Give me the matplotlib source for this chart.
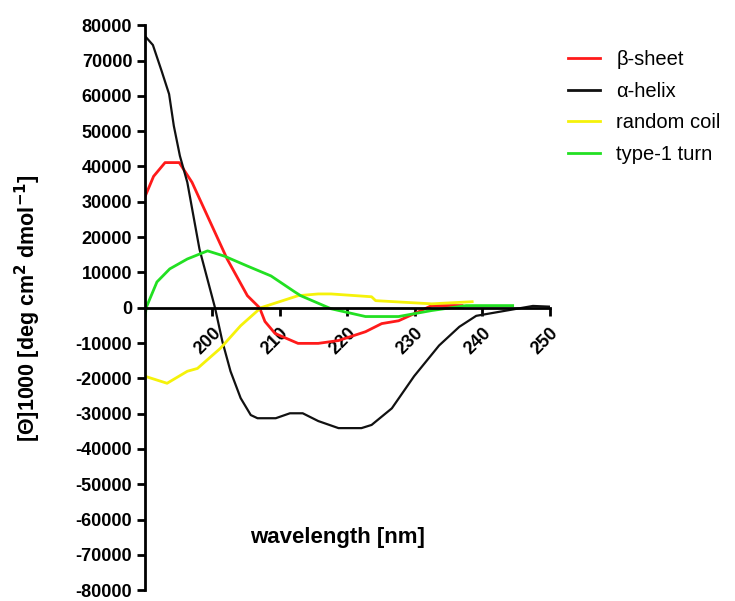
import matplotlib
matplotlib.use("Agg")
import matplotlib.pyplot as plt
import numpy as np

plt.rcParams['font.family'] = ['Liberation Sans', 'DejaVu Sans']

# alpha-helix (black)
helix_x = [190.0, 191.2, 192.5, 193.6, 194.3, 195.2, 196.3, 198.1, 200.4, 201.5, 202.7,
           204.2, 205.7, 206.7, 209.4, 211.5, 213.4, 215.7, 218.7, 222.1, 223.6, 226.6,
           229.9, 233.6, 236.6, 239.1, 243.6, 247.5, 250.0]
helix_y = [77000, 74400, 67000, 60500, 51500, 43000, 35500, 16600, 0, -9600, -18000,
           -25600, -30400, -31300, -31300, -29900, -29900, -32100, -34100, -34100, -33200, -28500,
           -19400, -10700, -5400, -2300, -800, 500, 300]

# beta-sheet (red)
sheet_x = [190.0, 191.3, 193.0, 195.1, 197.0, 199.3, 202.2, 205.2, 207.0, 207.8, 209.3,
           212.7, 215.7, 218.7, 222.7, 225.1, 227.6, 230.6, 232.5, 237.0]
sheet_y = [31300, 37200, 41100, 41100, 35500, 25900, 13800, 3400, 0, -3900, -7300,
           -10100, -10100, -9300, -6800, -4500, -3700, -1100, 600, 600]

# random coil (yellow)
coil_x = [190.0, 193.3, 196.3, 197.8, 201.2, 204.2, 207.2, 212.7, 215.7, 217.6, 223.6,
          224.2, 232.5, 238.5]
coil_y = [-19400, -21400, -18000, -17200, -11500, -5100, 0, 3400, 3900, 3900, 3100,
          2000, 1100, 1700]

# type-1 turn (green)
turn_x = [190.0, 190.2, 191.8, 193.7, 196.3, 199.3, 201.8, 205.2, 208.7, 212.2, 213.1,
          217.6, 222.7, 227.6, 232.5, 237.6, 244.5]
turn_y = [-3500, 0, 7300, 11000, 13800, 16100, 14600, 11800, 9000, 4500, 3400,
          -300, -2500, -2500, -800, 600, 600]

labels = ["\u03b2-sheet", "\u03b1-helix", "random coil", "type-1 turn"]
colors = ["#ff1a1a", "#111111", "#f5f20a", "#22e022"]

fig = plt.figure(figsize=(7.35, 6.01), dpi=100)
ax = fig.add_axes([0.197, 0.018, 0.551, 0.940])

series = [(sheet_x, sheet_y), (helix_x, helix_y), (coil_x, coil_y), (turn_x, turn_y)]
widths = [2.0, 1.6, 2.0, 2.0]
for (xs, ys), lab, c, w in zip(series, labels, colors, widths):
    ax.plot(xs, ys, color=c, lw=w, label=lab, solid_joinstyle='round')

ax.set_xlim(190, 250)
ax.set_ylim(-80000, 80000)
ax.spines['top'].set_visible(False)
ax.spines['right'].set_visible(False)
ax.spines['bottom'].set_position(('data', 0))
ax.spines['left'].set_linewidth(2.0)
ax.spines['bottom'].set_linewidth(2.0)

yticks = list(range(-80000, 80001, 10000))
xticks = [200, 210, 220, 230, 240, 250]
ax.set_yticks(yticks)
ax.set_yticklabels([str(v) for v in yticks], fontsize=13, fontweight='bold')
ax.set_xticks(xticks)
ax.set_xticklabels([str(v) for v in xticks], fontsize=13, fontweight='bold',
                   rotation=45, ha='right', va='top', rotation_mode='anchor')
ax.tick_params(axis='both', direction='out', length=6, width=2, pad=3)
ax.tick_params(axis='x', pad=6)

ax.text(0.475, 0.093, "wavelength [nm]", transform=ax.transAxes, ha='center', va='center',
        fontsize=16, fontweight='bold')
fig.text(0.038, 0.487, "[\u0398]1000 [deg cm$^{\\mathbf{2}}$ dmol$^{\\mathbf{-1}}$]", rotation=90,
         ha='center', va='center', fontsize=15.5, fontweight='bold')

leg = ax.legend(loc='upper left', bbox_to_anchor=(1.025, 0.97), frameon=False,
                fontsize=14.5, handlelength=1.6, handletextpad=0.8, labelspacing=0.62,
                borderaxespad=0)
for line in leg.get_lines():
    line.set_linewidth(2.0)

fig.savefig("out.png", dpi=100)
